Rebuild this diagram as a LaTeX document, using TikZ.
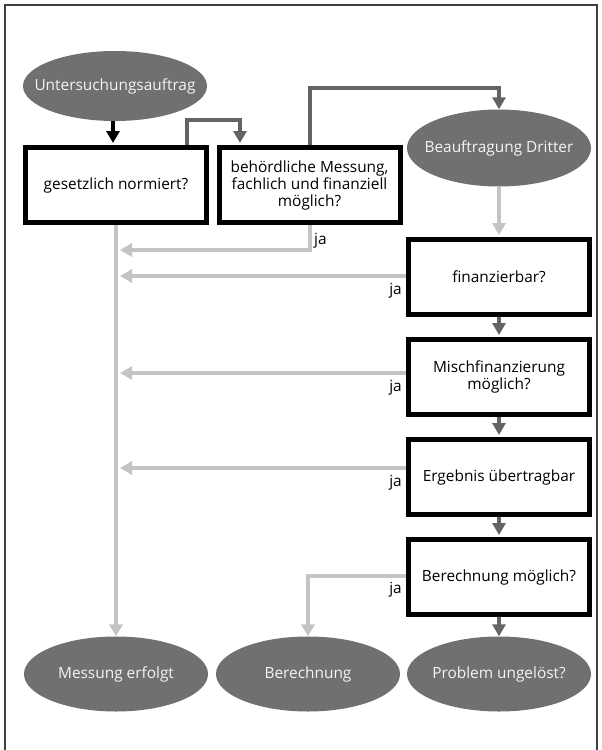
\documentclass[tikz,border=0pt]{standalone}
\usepackage{fontspec}
\setmainfont{Open Sans}
\usetikzlibrary{shapes.geometric,arrows.meta}
\definecolor{ellgray}{HTML}{707070}
\definecolor{ellfg}{HTML}{F4F4F4}
\definecolor{dkgray}{HTML}{646464}
\definecolor{ltgray}{HTML}{C4C4C4}
\definecolor{framegray}{HTML}{404040}
\newcommand{\ztext}[1]{\makebox[0pt][c]{#1}}
\begin{document}
\begin{tikzpicture}[x=1pt,y=-1pt,
  txt/.style={font=\fontsize{15.4}{17}\selectfont},
  ell/.style={ellipse, fill=ellgray, text=ellfg, minimum width=184pt, minimum height=75pt, inner sep=0pt, txt},
  qbox/.style={rectangle, draw=black, line width=5pt, fill=white, minimum width=181pt, minimum height=75pt, inner sep=0pt, align=center, txt},
  con/.style={line width=4pt, -{Triangle[length=12pt,width=13pt]}},
  dk/.style={con, draw=dkgray},
  lt/.style={con, draw=ltgray},
  blk/.style={con, draw=black},
  jalabel/.style={inner sep=0pt, txt}]
\useasboundingbox (0,0) rectangle (602,750);
\draw[line width=1.5pt, draw=framegray, fill=white] (5,5) rectangle (597,780);

\node[ell, minimum height=70pt] (u) at (115,86) {\ztext{Untersuchungsauftrag}};
\node[qbox] (g) at (116,185) {gesetzlich normiert?};
\node[qbox] (b) at (309.5,185) {behördliche Messung,\\fachlich und finanziell\\möglich?};
\node[ell, minimum height=77pt] (bd) at (499,148) {\ztext{Beauftragung Dritter}};
\node[qbox] (f) at (499,277) {finanzierbar?};
\node[qbox] (m) at (499,377) {Mischfinanzierung\\möglich?};
\node[qbox] (e) at (499,477) {Ergebnis übertragbar};
\node[qbox] (bm) at (499,577) {Berechnung möglich?};
\node[ell] (me) at (116,674) {\ztext{Messung erfolgt}};
\node[ell] (bc) at (308,674) {\ztext{Berechnung}};
\node[ell] (pu) at (499,674) {\ztext{Problem ungelöst?}};

\coordinate (t1) at (120,250);
\coordinate (t2) at (120,276);
\coordinate (t3) at (120,373);
\coordinate (t4) at (120,468);
\coordinate (t5) at (308,576);

% black start arrow
\draw[blk, shorten >=2pt] ([xshift=-2pt]u.south) -- ([xshift=-3pt]g.north);
% dark grey paths
\draw[dk, shorten >=2pt] ([xshift=71pt]g.north) -- ++(0,-25) -| ([xshift=-69.5pt]b.north);
\draw[dk] (b.north) -- ++(0,-57) -| (bd.north);
\draw[dk, shorten >=2pt] (f.south) -- (m.north);
\draw[dk, shorten >=2pt] (m.south) -- (e.north);
\draw[dk, shorten >=2pt] (e.south) -- (bm.north);
\draw[dk] (bm.south) -- (pu.north);
% light grey paths
\draw[lt, shorten >=2pt] (bd.south) -- (f.north);
\draw[lt] (g.south) -- (me.north);
\draw[lt] (b.south) |- (t1);
\draw[lt] (f.west |- t2) -- (t2);
\draw[lt] (m.west |- t3) -- (t3);
\draw[lt] (e.west |- t4) -- (t4);
\draw[lt] (bm.west |- t5) -- (t5) -- (bc.north);

% labels
\node[jalabel, anchor=west] (j1) at (314,241) {ja};
\node[jalabel, anchor=east] (j2) at (402,291) {ja};
\node[jalabel, anchor=east] (j3) at (402,388) {ja};
\node[jalabel, anchor=east] (j4) at (402,483) {ja};
\node[jalabel, anchor=east] (j5) at (402,590) {ja};
\end{tikzpicture}
\end{document}
